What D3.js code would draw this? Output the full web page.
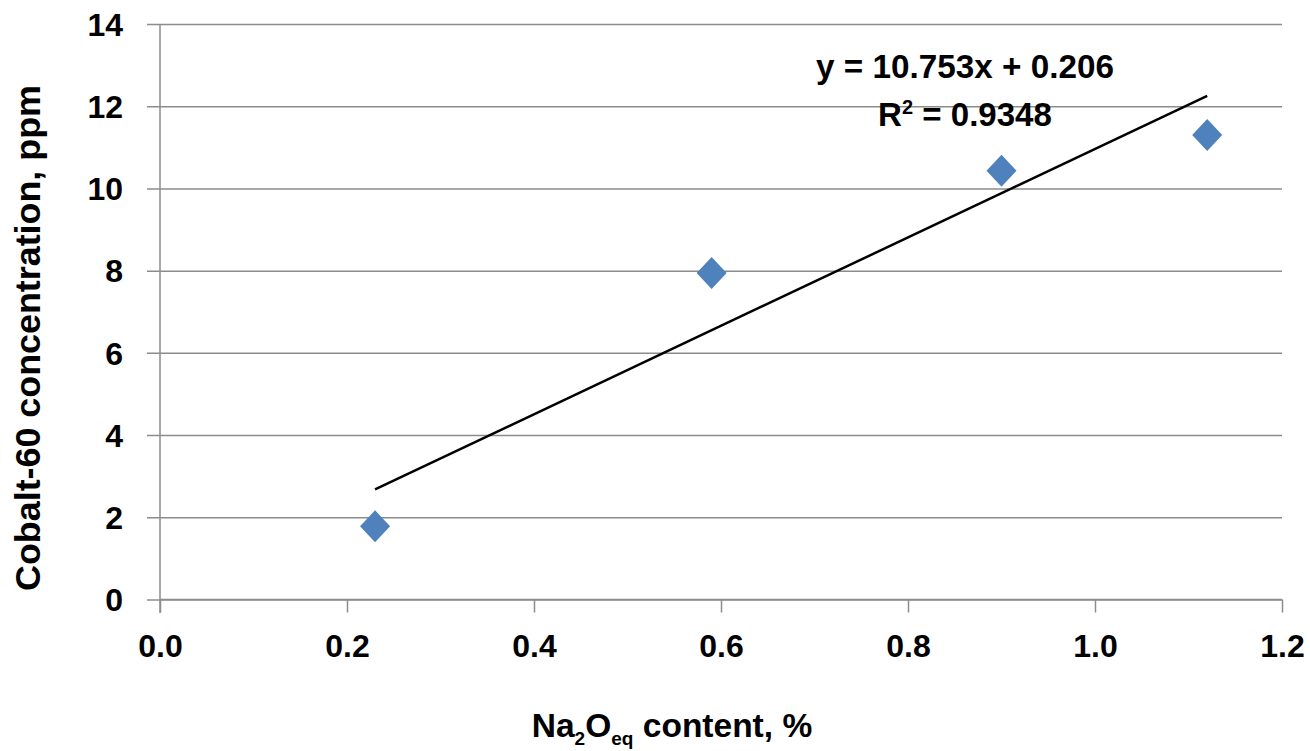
<!DOCTYPE html>
<html><head><meta charset="utf-8">
<script src="https://cdn.jsdelivr.net/npm/d3@7"></script>
<style>body{margin:0;background:#fff}svg{display:block}text{font-family:"Liberation Sans",Arial,sans-serif;font-weight:bold;fill:#000}</style>
</head><body><svg id="c" width="1310" height="751"></svg>
<script>
const naContent = [0.23, 0.59, 0.90, 1.12];
const cobalt = [1.78, 7.94, 10.43, 11.3];
const xTicks = [0, 0.2, 0.4, 0.6, 0.8, 1.0, 1.2];
const yTicks = [0, 2, 4, 6, 8, 10, 12, 14];
const slope = 10.753, intercept = 0.206, r2 = 0.9348;

const svg = d3.select("#c");
const x = d3.scaleLinear().domain([0, 1.2]).range([160, 1282]);
const y = d3.scaleLinear().domain([0, 14]).range([599.5, 24]);

// gridlines + y axis
const yAx = svg.append("g").attr("transform","translate(160,0)")
  .call(d3.axisLeft(y).tickValues(yTicks).tickSize(13).tickFormat(d3.format("d")).tickPadding(24));
yAx.select(".domain").remove();
yAx.selectAll(".tick line").attr("x2",1122).attr("x1",-13).attr("stroke","#8c8c8c").attr("stroke-width",1.5);
yAx.selectAll(".tick text").attr("font-size",32).attr("dy","0.35em").attr("fill","#000");
svg.append("line").attr("x1",160).attr("x2",160).attr("y1",y(14)).attr("y2",613).attr("stroke","#8c8c8c").attr("stroke-width",1.5);

const xAx = svg.append("g").attr("transform",`translate(0,${y(0)})`)
  .call(d3.axisBottom(x).tickValues(xTicks).tickSize(13).tickFormat(d3.format(".1f")).tickPadding(22));
xAx.select(".domain").attr("stroke","#8c8c8c").attr("stroke-width",1.5).attr("d",`M160,0H1282`);
xAx.selectAll(".tick line").attr("stroke","#8c8c8c").attr("stroke-width",1.5);
xAx.selectAll(".tick text").attr("font-size",32).attr("fill","#000").attr("dy","0.71em");

// trendline
const x0 = d3.min(naContent), x1 = d3.max(naContent);
svg.append("line").attr("x1",x(x0)).attr("y1",y(slope*x0+intercept))
  .attr("x2",x(x1)).attr("y2",y(slope*x1+intercept)).attr("stroke","#000").attr("stroke-width",2.5);

// markers
svg.selectAll("path.pt").data(naContent).join("path").attr("class","pt")
  .attr("transform",(d,i)=>`translate(${x(d)},${y(cobalt[i])})`)
  .attr("d","M0,-16L15,0L0,16L-15,0Z").attr("fill","#4f81bd");

function fit(sel, w){ const l = sel.node().getComputedTextLength(); const fs = +sel.attr("font-size"); sel.attr("font-size", fs*w/l); }

// equation
const eq = svg.append("text").attr("x",965).attr("y",78).attr("text-anchor","middle").attr("font-size",30)
  .text(`y = ${slope}x + ${intercept}`);
fit(eq, 298);
const rr = svg.append("text").attr("x",965).attr("y",126).attr("text-anchor","middle").attr("font-size",30);
rr.append("tspan").text("R");
rr.append("tspan").attr("font-size",20).attr("dy",-12).text("2");
rr.append("tspan").attr("dy",12).text(` = ${r2}`);
fit(rr, 175);

// axis titles
const yt = svg.append("text").attr("transform","translate(40,338) rotate(-90)").attr("text-anchor","middle").attr("font-size",28)
  .text("Cobalt-60 concentration, ppm");
fit(yt, 506);
const xt = svg.append("text").attr("x",672).attr("y",737).attr("text-anchor","middle").attr("font-size",28);
xt.append("tspan").text("Na");
xt.append("tspan").attr("font-size",19).attr("dy",8).text("2");
xt.append("tspan").attr("dy",-8).text("O");
xt.append("tspan").attr("font-size",19).attr("dy",8).text("eq");
xt.append("tspan").attr("dy",-8).text(" content, %");
fit(xt, 287);
</script></body></html>
